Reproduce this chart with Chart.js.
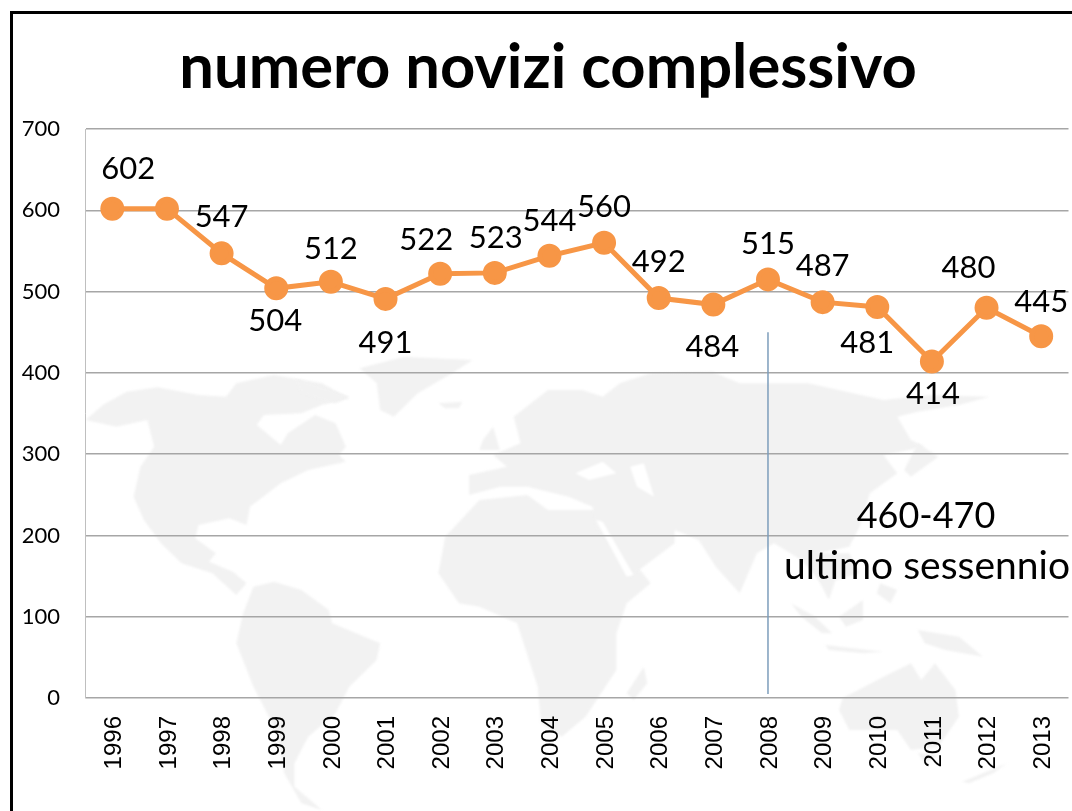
<!DOCTYPE html>
<html>
<head>
<meta charset="utf-8">
<title>numero novizi complessivo</title>
<script src="https://cdn.jsdelivr.net/npm/chart.js@4"></script>
<style>
html, body { margin: 0; padding: 0; background: #fff; overflow: hidden; }
#wrap { width: 1072px; height: 811px; position: relative; overflow: hidden; }
</style>
</head>
<body>
<!-- canvas runs 11px past the window: the line controller reserves room for the last marker -->
<div id="wrap"><canvas id="myChart" width="1083" height="811"></canvas></div>
<script>
const years = ['1996','1997','1998','1999','2000','2001','2002','2003','2004','2005','2006','2007','2008','2009','2010','2011','2012','2013'];
const novizi = [602,602,547,504,512,491,522,523,544,560,492,484,515,487,481,414,480,445];
const shownLabels = ['602',null,'547','504','512','491','522','523','544','560','492','484','515','487','481','414','480','445'];
const yTicks = [0,100,200,300,400,500,600,700];
const markerYear = '2008';
const markerRange = [450,5];

// label offsets from the point, in pixels
const labelDx = [16,0,0,-1,0,0,-14,1,0,0,0,-1,0,0,-10,1,-18,0];
const labelDy = [-40,0,-36,33,-33,44,-34,-35,-35,-36,-36,42,-35,-36,36,33,-40,-34];

// world map behind the chart (x/1.46, 340+y/3)
const mapLand = [
  [[125,240],[150,195],[185,155],[230,142],[290,165],[330,170],[345,130],[400,105],[470,130],[510,175],[470,195],[440,220],[385,225],[375,255],[410,315],[420,280],[460,225],[490,250],[505,320],[495,345],[505,365],[450,390],[410,430],[365,500],[360,555],[335,535],[290,555],[285,595],[315,640],[305,665],[340,695],[360,730],[345,765],[310,700],[265,670],[235,610],[210,540],[195,470],[205,380],[225,320],[215,240],[170,260]],
  [[525,85],[590,50],[690,60],[660,100],[610,160],[575,230],[555,210],[550,130]],
  [[370,740],[400,725],[440,750],[480,810],[485,850],[555,910],[550,960],[510,1040],[490,1120],[450,1190],[430,1270],[430,1340],[470,1410],[440,1390],[415,1300],[405,1180],[370,1040],[345,910],[355,820]],
  [[700,480],[770,465],[800,510],[870,510],[900,600],[950,730],[915,790],[900,880],[900,990],[855,1130],[820,1190],[790,1150],[785,1040],[755,850],[700,800],[670,790],[640,700],[650,590]],
  [[685,465],[685,405],[740,380],[720,345],[760,310],[750,230],[800,150],[850,150],[880,170],[905,130],[950,100],[1040,95],[1080,130],[1180,130],[1290,180],[1360,165],[1445,170],[1400,195],[1340,215],[1310,230],[1330,300],[1350,320],[1290,345],[1310,400],[1270,460],[1255,560],[1240,620],[1195,640],[1210,700],[1200,730],[1170,660],[1130,610],[1105,640],[1080,760],[1045,680],[1020,600],[985,570],[985,610],[920,710],[900,640],[870,560],[865,500],[830,470],[770,440],[730,440]],
  [[705,300],[720,260],[730,330],[700,330]],
  [[640,190],[675,185],[670,205],[650,205]],
  [[1340,310],[1370,350],[1330,410],[1320,390]],
  [[940,980],[945,1030],[925,1080],[915,1060]],
  [[1155,790],[1190,830],[1215,880],[1200,880],[1170,830]],
  [[1225,830],[1260,780],[1260,840],[1235,860]],
  [[1205,915],[1290,935],[1260,940],[1210,930]],
  [[1340,870],[1400,890],[1435,950],[1380,930],[1350,910]],
  [[1285,730],[1310,750],[1300,790],[1280,760]],
  [[1180,640],[1240,640],[1255,700],[1220,720],[1210,780],[1195,720]],
  [[1230,1075],[1290,1010],[1330,970],[1345,1020],[1365,970],[1395,1050],[1400,1130],[1370,1220],[1330,1230],[1310,1170],[1240,1170],[1225,1110]],
  [[1340,1240],[1370,1245],[1350,1270]],
  [[1405,1325],[1470,1270],[1450,1300],[1415,1330]],
  [[430,115],[510,170],[490,190],[440,160]]
];
const mapWater = [
  [[840,400],[880,365],[900,400],[860,420]],
  [[920,380],[940,370],[955,470],[930,440]],
  [[870,540],[880,545],[925,705],[915,710]]
];

function tracePoly(ctx, pts){
    ctx.beginPath();
    pts.forEach(function(p, i){
        let x = p[0] / 1.46;
        let y = 340 + p[1] / 3;
        if (i == 0) ctx.moveTo(x, y); else ctx.lineTo(x, y);
    });
    ctx.closePath();
    ctx.fill();
}

const backdrop = {
    id: 'backdrop',
    afterLayout(chart){
        // y tick labels are clipped to the scale box, open it to the left
        const ys = chart.scales.y;
        ys.left = 0;
        ys.width = ys.right;
    },
    beforeDraw(chart){
        const ctx = chart.ctx;
        ctx.save();
        ctx.filter = 'blur(1px)';
        ctx.fillStyle = '#f2f2f2';
        mapLand.forEach(function(p){ tracePoly(ctx, p); });
        ctx.fillStyle = '#ffffff';
        mapWater.forEach(function(p){ tracePoly(ctx, p); });
        ctx.filter = 'none';
        // picture frame, only left and top are in shot
        ctx.fillStyle = '#000000';
        ctx.fillRect(10, 11, 1073, 3);
        ctx.fillRect(10, 11, 3, 800);
        ctx.restore();
    }
};

const pointLabels = {
    id: 'pointLabels',
    afterDraw(chart){
        const ctx = chart.ctx;
        const xs = chart.scales.x;
        const ys = chart.scales.y;
        ctx.save();
        ctx.fillStyle = '#000000';
        ctx.textAlign = 'center';
        ctx.textBaseline = 'middle';
        ctx.font = '31px Lato';
        shownLabels.forEach(function(txt, i){
            if (txt === null) return;
            ctx.fillText(txt, xs.getPixelForValue(i) + labelDx[i], ys.getPixelForValue(novizi[i]) + labelDy[i]);
        });
        ctx.font = '36px Lato';
        ctx.fillText('460-470', 926, 516);
        ctx.font = '39px Lato';
        ctx.fillText('ultimo sessennio', 927, 566);
        ctx.restore();
    }
};

new Chart(document.getElementById('myChart').getContext('2d'), {
    type: 'line',
    data: {
        labels: years,
        datasets: [{
            label: 'numero novizi',
            data: novizi,
            borderColor: '#f79646',
            backgroundColor: '#f79646',
            borderWidth: 5,
            pointRadius: 9.5,
            pointHoverRadius: 9.5,
            tension: 0
        }, {
            label: 'ultimo sessennio',
            data: markerRange.map(function(v){ return { x: markerYear, y: v }; }),
            borderColor: '#7d9dbb',
            borderWidth: 1.5,
            pointRadius: 0,
            tension: 0
        }]
    },
    options: {
        responsive: false,
        animation: false,
        layout: { padding: { left: 26, right: 13, top: 0, bottom: 0 } },
        plugins: {
            legend: { display: false },
            tooltip: { enabled: false },
            title: {
                display: true,
                text: 'numero novizi complessivo',
                color: '#000000',
                font: { family: 'Lato', size: 61.5, weight: 'bold', lineHeight: 1 },
                padding: { top: 37, bottom: 30.5 }
            }
        },
        scales: {
            x: {
                offset: true,
                grid: { display: false, offset: true },
                border: { display: false },
                ticks: {
                    autoSkip: false,
                    minRotation: 90,
                    maxRotation: 90,
                    color: '#000000',
                    padding: 10,
                    labelOffset: 2,
                    font: { family: 'Liberation Sans', size: 24 }
                },
                afterFit(scale){ scale.height = 113; scale.paddingRight = 0; scale.paddingLeft = 0; }
            },
            y: {
                min: 0,
                max: 700,
                afterBuildTicks(scale){ scale.ticks = yTicks.map(function(v){ return { value: v }; }); },
                grid: { color: '#a6a6a6', lineWidth: 1.5, drawTicks: false },
                border: { display: true, color: '#bfbfbf', width: 1 },
                ticks: {
                    color: '#000000',
                    padding: 25,
                    font: { family: 'Lato', size: 22 }
                },
                afterFit(scale){ scale.width = 59; }
            }
        }
    },
    plugins: [backdrop, pointLabels]
});
</script>
</body>
</html>
